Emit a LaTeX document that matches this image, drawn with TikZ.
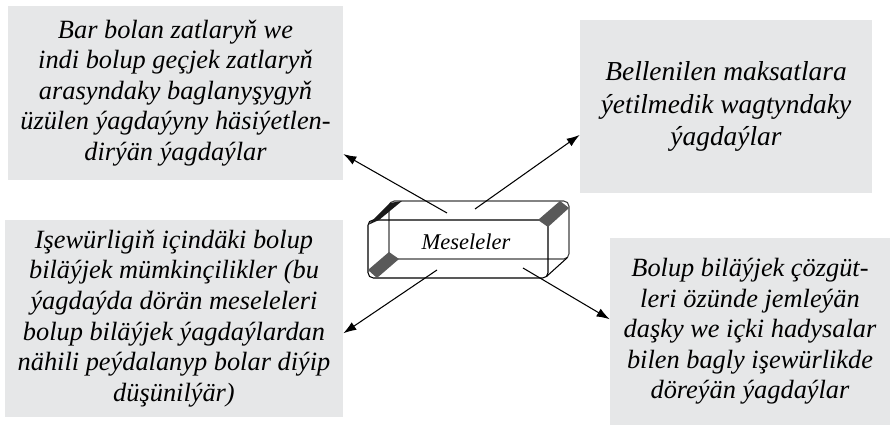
\documentclass[tikz,border=0pt]{standalone}
\usepackage{fontspec}
\setmainfont{Liberation Serif}
\usepackage{tikz}
\usetikzlibrary{positioning,arrows.meta}
\definecolor{boxgray}{RGB}{230,231,232}

\begin{document}
\begin{tikzpicture}[>={Latex[length=2.6mm,width=1.8mm]},
    infobox/.style={fill=boxgray, align=center, inner sep=0pt,
      font=\fontsize{15}{17.4}\selectfont\itshape},
    face/.style={rounded corners=3pt, line width=0.6pt}]
  \useasboundingbox (0,0) rectangle (17.8,-8.5);

  % the four situations
  \node[infobox, minimum width=6.70cm, minimum height=3.48cm] (tl) at (3.51,-1.86)
    {Bar bolan zatlaryň we\\ indi bolup geçjek zatlaryň\\ arasyndaky baglanyşygyň\\ üzülen ýagdaýyny häsiýetlen-\\ dirýän ýagdaýlar};
  \node[infobox, minimum width=5.84cm, minimum height=3.46cm,
        font=\fontsize{15.6}{18.4}\selectfont\itshape] (tr) at (14.52,-2.13)
    {Bellenilen maksatlara\\ ýetilmedik wagtyndaky\\ ýagdaýlar};
  \node[infobox, minimum width=6.76cm, minimum height=3.94cm] (bl) at (3.48,-6.37)
    {Işewürligiň içindäki bolup\\ biläýjek mümkinçilikler (bu\\ ýagdaýda dörän meseleleri\\ bolup biläýjek ýagdaýlardan\\ nähili peýdalanyp bolar diýip\\ düşünilýär)};
  \node[infobox, minimum width=5.6cm, minimum height=3.74cm] (br) at (15.0,-6.63)
    {Bolup biläýjek çözgüt-\\ leri özünde jemleýän\\ daşky we içki hadysalar\\ bilen bagly işewürlikde\\ döreýän ýagdaýlar};

  % the block in the middle
  \draw[face, black!75] (7.78,-4.02) rectangle (11.38,-5.18);
  \draw[face] (7.36,-4.40) rectangle (10.96,-5.56);
  \fill[black!90] (7.36,-4.50) -- (7.58,-4.40) -- (8.04,-4.02) -- (7.80,-4.06) -- cycle;
  \fill[black!65] (7.36,-5.40) -- (7.54,-5.56) -- (7.98,-5.18) -- (7.78,-5.04) -- cycle;
  \fill[black!65] (10.76,-4.40) -- (10.96,-4.54) -- (11.38,-4.16) -- (11.20,-4.02) -- cycle;
  \draw[line width=0.6pt] (10.93,-5.53) -- (11.35,-5.15);
  \node[font=\fontsize{12.8}{15}\selectfont\itshape] (mes) at (9.32,-4.84) {Meseleler};

  \coordinate (s1) at (8.94,-4.26);
  \coordinate (s2) at (9.50,-4.18);
  \coordinate (s3) at (8.74,-5.40);
  \coordinate (s4) at (10.46,-5.36);
  \draw[->, line width=0.6pt] (s1) -- (tl.340);
  \draw[->, line width=0.6pt] (s2) -- (tr.191);
  \draw[->, line width=0.6pt] (s3) -- (bl.355);
  \draw[->, line width=0.6pt] (s4) -- (br.175);
\end{tikzpicture}
\end{document}
